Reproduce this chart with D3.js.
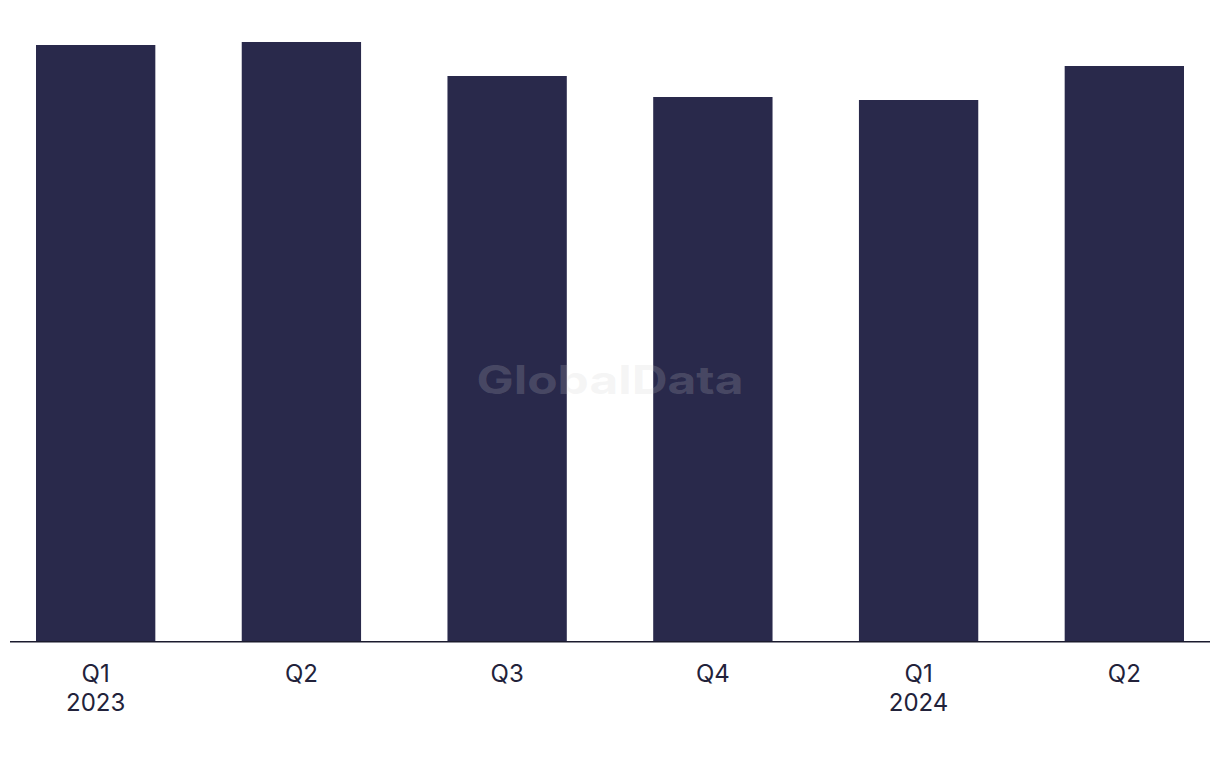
<!DOCTYPE html>
<html>
<head>
<meta charset="utf-8">
<script src="https://cdn.jsdelivr.net/npm/d3@7"></script>
<style>
  html, body { margin: 0; padding: 0; background: #ffffff; }
  svg { display: block; }
</style>
</head>
<body>
<svg id="chart" width="1220" height="768"></svg>
<script>
const quarters = ["Q1", "Q2", "Q3", "Q4", "Q1", "Q2"];
const years = ["2023", "", "", "", "2024", ""];
const values = [596, 599, 565, 544, 541, 575];

const svg = d3.select("#chart");
const ids = d3.range(values.length);

const x = d3.scaleBand().domain(ids).range([36, 1184]).paddingInner(0.42).paddingOuter(0);
const y = d3.scaleLinear().domain([0, 599]).range([641, 42]);

svg.append("g").selectAll("rect").data(ids).join("rect")
  .attr("x", i => x(i))
  .attr("width", x.bandwidth())
  .attr("y", i => y(values[i]))
  .attr("height", i => y(0) - y(values[i]))
  .attr("fill", "#29294b");

svg.append("line")
  .attr("x1", 10).attr("x2", 1210)
  .attr("y1", 641.75).attr("y2", 641.75)
  .attr("stroke", "#1b1b2e").attr("stroke-width", 1.5);

const labels = svg.append("g")
  .attr("font-family", "Inter, 'Liberation Sans', Arial, sans-serif")
  .attr("font-size", 24)
  .attr("fill", "#22223a")
  .attr("text-anchor", "middle");

labels.selectAll("text.q").data(ids).join("text")
  .attr("class", "q")
  .attr("x", i => x(i) + x.bandwidth() / 2)
  .attr("y", 682)
  .text(i => quarters[i]);

labels.selectAll("text.yr").data(ids.filter(i => years[i])).join("text")
  .attr("class", "yr")
  .attr("x", i => x(i) + x.bandwidth() / 2)
  .attr("y", 711)
  .text(i => years[i]);

svg.append("text")
  .attr("x", 610).attr("y", 394)
  .attr("text-anchor", "middle")
  .attr("font-family", "Inter, 'Liberation Sans', sans-serif")
  .attr("font-weight", "bold")
  .attr("font-size", 39)
  .attr("textLength", 267)
  .attr("lengthAdjust", "spacingAndGlyphs")
  .attr("fill", "#cdcdcd")
  .attr("fill-opacity", 0.2)
  .text("GlobalData");
</script>
</body>
</html>
